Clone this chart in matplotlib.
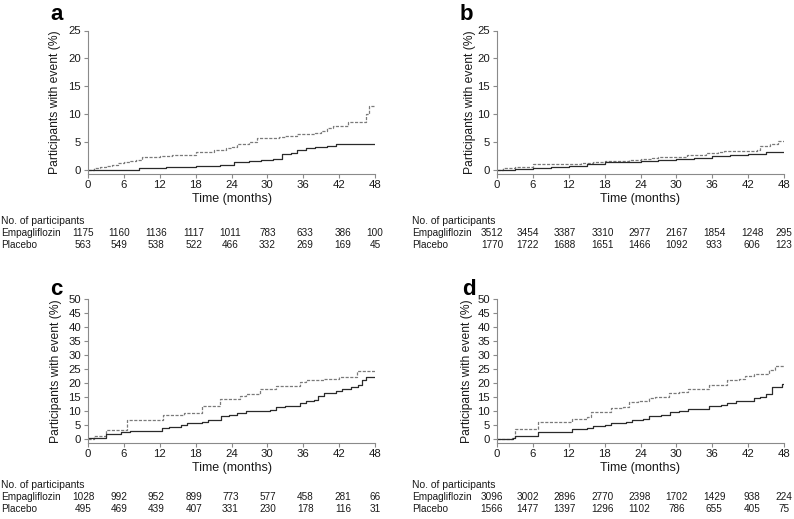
import numpy as np
import matplotlib.pyplot as plt

plt.rcParams['font.family'] = ['Liberation Sans', 'DejaVu Sans']

# step curves: (month, % with event)
a_emp_t = [0, 1, 8.5, 13, 16, 18, 22, 24.5, 27, 29, 31, 32.5, 34, 35, 36.5, 38, 40, 41.5, 48]
a_emp_y = [0, 0.1, 0.4, 0.55, 0.65, 0.8, 1.0, 1.4, 1.6, 1.9, 2.0, 2.9, 3.0, 3.6, 4.0, 4.1, 4.4, 4.7, 4.7]
a_pla_t = [0, 1, 2, 3, 4, 5, 6, 7, 8, 9, 12, 14, 16, 18, 21, 23, 24, 25, 27, 28.3, 32, 33,
           35, 38, 39, 40, 41, 43.5, 46.5, 47, 48]
a_pla_y = [0, 0.3, 0.6, 0.8, 1.0, 1.3, 1.5, 1.6, 1.9, 2.3, 2.5, 2.7, 2.8, 3.3, 3.6, 3.9, 4.1,
           4.7, 5.0, 5.7, 5.9, 6.1, 6.4, 6.6, 7.0, 7.6, 7.9, 8.6, 10.0, 11.5, 11.5]

b_emp_t = [0, 3, 6, 9, 12, 15, 18, 21, 24, 27, 30, 33, 36, 39, 42, 45, 48]
b_emp_y = [0, 0.2, 0.4, 0.6, 0.8, 1.1, 1.4, 1.5, 1.7, 1.8, 2.0, 2.2, 2.5, 2.7, 2.9, 3.2, 3.2]
b_pla_t = [0, 1, 3, 6, 12, 14, 16, 18, 20, 22, 24, 26, 27, 31.7, 35, 37, 38, 43.5, 44,
           45.6, 47, 48]
b_pla_y = [0, 0.3, 0.6, 1.1, 1.15, 1.2, 1.4, 1.6, 1.7, 1.9, 2.0, 2.2, 2.4, 2.8, 3.0, 3.2,
           3.5, 3.6, 4.3, 4.6, 5.2, 5.2]

c_emp_t = [0, 3, 5.5, 7, 12.3, 13.5, 15.5, 16.5, 19, 20, 21.5, 22.3, 23.5, 25, 26.5, 29,
           30.5, 31.5, 33, 35.5, 36.5, 37.8, 38.5, 39.5, 41.5, 42.5, 44, 45.2, 45.8, 46.5, 48]
c_emp_y = [0.3, 1.7, 2.4, 2.9, 4.0, 4.4, 5.0, 5.7, 6.2, 6.8, 7.0, 8.2, 8.6, 9.3, 10.0, 10.2,
           10.5, 11.4, 11.8, 12.9, 13.6, 14.1, 15.6, 16.5, 17.2, 18.0, 18.8, 19.5, 21.0, 22.2, 22.2]
c_pla_t = [0, 1, 3, 6.5, 12.5, 16, 19, 22, 25.5, 26.5, 28.8, 31.5, 35.5, 36.5, 39.5, 42,
           45, 48]
c_pla_y = [0, 1.0, 3.2, 6.7, 8.5, 9.2, 11.8, 14.3, 15.5, 16.1, 18.0, 19.0, 20.5, 21.2, 21.6,
           22.3, 24.4, 24.4]

d_emp_t = [0, 2.7, 3, 4.5, 6.8, 12.5, 15, 16, 18, 19, 21.5, 22.5, 24.5, 25.5, 27.5, 29,
           30.5, 32, 35.5, 37.5, 38.5, 40, 43, 44, 45, 46, 47.7, 48]
d_emp_y = [0, 0.5, 1.0, 1.3, 2.4, 3.6, 3.9, 4.7, 5.0, 5.7, 6.0, 6.8, 7.1, 8.2, 8.6, 9.7,
           10.1, 10.8, 11.7, 12.2, 13.0, 13.6, 14.7, 15.1, 16.3, 18.8, 19.7, 19.7]
d_pla_t = [0, 2.5, 3, 6.8, 12.5, 15, 15.8, 19, 21, 22, 23.5, 25.5, 26.5, 28.8, 30.5, 32,
           35.5, 37, 38.5, 40.5, 41.5, 43, 45.5, 46.5, 48]
d_pla_y = [0, 0.5, 3.5, 6.1, 7.3, 7.8, 9.8, 11.1, 11.5, 13.2, 13.6, 14.6, 15.1, 16.5, 16.9,
           18.0, 19.2, 19.5, 21.3, 21.5, 22.6, 23.3, 24.8, 26.2, 26.2]

# numbers at risk
months = [0, 6, 12, 18, 24, 30, 36, 42, 48]
a_risk_emp = [1175, 1160, 1136, 1117, 1011, 783, 633, 386, 100]
a_risk_pla = [563, 549, 538, 522, 466, 332, 269, 169, 45]
b_risk_emp = [3512, 3454, 3387, 3310, 2977, 2167, 1854, 1248, 295]
b_risk_pla = [1770, 1722, 1688, 1651, 1466, 1092, 933, 606, 123]
c_risk_emp = [1028, 992, 952, 899, 773, 577, 458, 281, 66]
c_risk_pla = [495, 469, 439, 407, 331, 230, 178, 116, 31]
d_risk_emp = [3096, 3002, 2896, 2770, 2398, 1702, 1429, 938, 224]
d_risk_pla = [1566, 1477, 1397, 1296, 1102, 786, 655, 405, 75]

W, H = 794, 519
fig = plt.figure(figsize=(W / 100, H / 100), dpi=100)

spine_col = '#8a8a8a'
txt_col = '#1a1a1a'
tab_fs = 7.2
col_shift = [-5, -5, -4, -2, -1, 0, 2, 4, 0]   # px, table columns sit a bit off the ticks


def panel(rect, letter, let_pos, ylab_x, ymax, emp, pla, risk_emp, risk_pla, tab_x, tab_y):
    l, t, r, b = rect
    ax = fig.add_axes([l / W, 1 - b / H, (r - l) / W, (b - t) / H])
    ax.step(pla[0], pla[1], where='post', color='#7a7a7a', lw=0.9, ls=(0, (2.5, 1.2)))
    ax.step(emp[0], emp[1], where='post', color='#2a2a2a', lw=0.9)
    ax.set_xlim(0, 48)
    ax.set_ylim(-ymax * 0.024, ymax)
    ax.set_xticks(months)
    ax.set_yticks(np.arange(0, ymax + 1, 5))
    for s in ['top', 'right']:
        ax.spines[s].set_visible(False)
    for s in ['left', 'bottom']:
        ax.spines[s].set_color(spine_col)
        ax.spines[s].set_linewidth(0.8)
    ax.tick_params(colors=spine_col, labelcolor=txt_col, labelsize=8.2,
                   length=3, width=0.8, pad=2)
    ax.set_xlabel('Time (months)', fontsize=9, color=txt_col, labelpad=2)
    ax.set_ylabel('Participants with event (%)', fontsize=8.7, color=txt_col)
    ax.yaxis.set_label_coords(ylab_x, 0.5)
    fig.text(let_pos[0] / W, 1 - let_pos[1] / H, letter, fontsize=16, fontweight='bold',
             va='baseline', ha='left')
    # risk table
    fig.text(tab_x / W, 1 - tab_y / H, 'No. of participants', fontsize=7.5,
             va='baseline', color=txt_col)
    fig.text(tab_x / W, 1 - (tab_y + 12) / H, 'Empagliflozin', fontsize=tab_fs,
             va='baseline', color=txt_col)
    fig.text(tab_x / W, 1 - (tab_y + 24) / H, 'Placebo', fontsize=tab_fs,
             va='baseline', color=txt_col)
    for m, sh, ne, npl in zip(months, col_shift, risk_emp, risk_pla):
        xx = (l + (r - l) * m / 48 + sh) / W
        fig.text(xx, 1 - (tab_y + 12) / H, str(ne), fontsize=tab_fs, ha='center',
                 va='baseline', color=txt_col)
        fig.text(xx, 1 - (tab_y + 24) / H, str(npl), fontsize=tab_fs, ha='center',
                 va='baseline', color=txt_col)
    return ax


panel((88, 30.5, 375, 173.5), 'a', (50, 20.5), -0.094, 25, (a_emp_t, a_emp_y),
      (a_pla_t, a_pla_y), a_risk_emp, a_risk_pla, 1, 224)
panel((497, 30.5, 784, 173.5), 'b', (460, 20.5), -0.073, 25, (b_emp_t, b_emp_y),
      (b_pla_t, b_pla_y), b_risk_emp, b_risk_pla, 412, 224)
panel((88, 299.3, 375, 442.5), 'c', (50, 295), -0.092, 50, (c_emp_t, c_emp_y),
      (c_pla_t, c_pla_y), c_risk_emp, c_risk_pla, 1, 488)
panel((497, 299.3, 784, 442.5), 'd', (462, 295), -0.084, 50, (d_emp_t, d_emp_y),
      (d_pla_t, d_pla_y), d_risk_emp, d_risk_pla, 412, 488)

fig.savefig('out.png', dpi=100)
